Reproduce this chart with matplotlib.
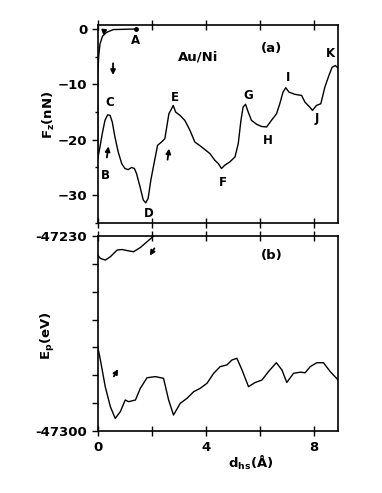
import matplotlib
matplotlib.use("Agg")
import matplotlib.pyplot as plt
from matplotlib.ticker import MultipleLocator

plt.rcParams["font.family"] = ["DejaVu Sans"]
plt.rcParams["font.weight"] = "bold"
plt.rcParams["mathtext.default"] = "bf"

# (a) force on the tip, approach then retraction
fz_d = [1.42, 0.58, 0.33, 0.18, 0.085, 0.04, 0.0, 0.0,
        0.085, 0.17, 0.27, 0.37, 0.46, 0.54, 0.64, 0.76, 0.89, 1.01, 1.13, 1.26,
        1.36, 1.44, 1.57, 1.69, 1.78, 1.87, 1.97, 2.10, 2.22, 2.37, 2.49, 2.56,
        2.64, 2.74, 2.80, 2.89, 3.05, 3.23, 3.42, 3.60, 3.85, 4.16, 4.34, 4.47,
        4.59, 4.71, 4.90, 5.09, 5.21, 5.31, 5.39, 5.48, 5.58, 5.70, 5.89, 6.07,
        6.26, 6.44, 6.63, 6.75, 6.87, 6.97, 7.09, 7.31, 7.56, 7.68, 7.86, 7.96,
        8.11, 8.27, 8.42, 8.57, 8.69, 8.81, 8.94]
fz_f = [0.0, -0.1, -0.6, -1.3, -2.7, -4.8, -8.4, -23.5,
        -21.3, -18.9, -16.5, -15.5, -15.6, -16.8, -19.5, -22.2, -24.3, -25.2, -25.4, -25.0,
        -25.2, -26.1, -28.5, -30.9, -31.4, -30.6, -27.3, -24.0, -21.0, -20.4, -19.8, -17.7,
        -15.3, -14.4, -13.8, -15.0, -15.6, -16.5, -18.3, -20.4, -21.3, -22.5, -23.7, -24.3,
        -25.2, -24.6, -24.0, -23.1, -20.7, -16.5, -14.1, -13.6, -15.0, -16.5, -17.2, -17.6,
        -17.7, -16.5, -15.3, -13.5, -11.4, -10.6, -11.4, -11.8, -12.0, -13.2, -14.1, -14.7,
        -13.8, -13.5, -10.5, -8.4, -6.9, -6.6, -7.2]

# (b) potential energy, approach branch and retraction branch
ep_app_d = [0.0, 0.1, 0.28, 0.47, 0.72, 0.9, 1.15, 1.33, 1.58, 1.83, 2.07]
ep_app = [-47236.8, -47238.0, -47238.6, -47237.4, -47235.0, -47234.8, -47235.3,
          -47235.6, -47234.1, -47232.0, -47230.0]
ep_ret_d = [0.0, 0.1, 0.28, 0.47, 0.65, 0.84, 1.02, 1.15, 1.40, 1.58, 1.83, 2.14,
            2.44, 2.63, 2.81, 3.06, 3.31, 3.56, 3.80, 4.05, 4.30, 4.54, 4.79, 4.98,
            5.16, 5.35, 5.59, 5.84, 6.09, 6.33, 6.62, 6.83, 7.01, 7.26, 7.51, 7.69,
            7.88, 8.12, 8.37, 8.62, 8.93]
ep_ret = [-47269.7, -47274.5, -47284.1, -47291.3, -47295.5, -47293.1, -47288.9,
          -47289.5, -47288.9, -47284.7, -47280.9, -47280.5, -47281.1, -47288.9,
          -47294.3, -47290.1, -47288.3, -47285.9, -47284.7, -47282.9, -47279.3,
          -47276.9, -47276.3, -47274.5, -47273.9, -47278.1, -47284.1, -47282.6,
          -47281.7, -47278.7, -47275.5, -47278.1, -47282.6, -47279.3, -47278.9,
          -47279.1, -47276.9, -47275.5, -47275.5, -47278.7, -47281.9]

point_labels = ["A", "B", "C", "D", "E", "F", "G", "H", "I", "J", "K"]
label_d = [1.41, 0.30, 0.43, 1.91, 2.86, 4.65, 5.58, 6.30, 7.06, 8.11, 8.64]
label_f = [-2.1, -26.4, -13.2, -33.3, -12.3, -27.8, -12.0, -20.2, -8.7, -16.2, -4.5]

fig = plt.figure(figsize=(3.82, 4.93), dpi=100)
ax1 = fig.add_axes([0.2557, 0.547, 0.630, 0.402])
ax2 = fig.add_axes([0.2557, 0.126, 0.630, 0.395])

arrow = dict(arrowstyle="-|>", color="black", lw=1.3, mutation_scale=7,
             shrinkA=0, shrinkB=0)

# top panel
ax1.plot(fz_d, fz_f, color="black", lw=1.0)
ax1.plot([1.42], [0.0], "o", color="black", ms=2.5)
for lab, d, f in zip(point_labels, label_d, label_f):
    ax1.text(d, f, lab, ha="center", va="center", fontsize=8.5, fontweight="bold")
ax1.text(3.73, -5.1, "Au/Ni", ha="center", va="center", fontsize=9.5, fontweight="bold")
ax1.text(6.44, -3.6, "(a)", ha="center", va="center", fontsize=9.5, fontweight="bold")
ax1.annotate("", xy=(0.57, -8.3), xytext=(0.57, -6.2), arrowprops=arrow)
ax1.annotate("", xy=(0.40, -21.2), xytext=(0.34, -23.2), arrowprops=arrow)
ax1.annotate("", xy=(2.65, -21.6), xytext=(2.59, -23.6), arrowprops=arrow)
ax1.annotate("", xy=(0.22, -1.2), xytext=(0.24, -0.2), arrowprops=arrow)
ax1.set_xlim(0, 8.92)
ax1.set_ylim(-35.1, 0.7)
ax1.yaxis.set_major_locator(MultipleLocator(10))
ax1.yaxis.set_minor_locator(MultipleLocator(5))
ax1.xaxis.set_major_locator(MultipleLocator(2))
ax1.tick_params(axis="x", which="both", direction="inout", length=7, width=1,
                top=True, labelbottom=False)
ax1.tick_params(axis="y", which="major", direction="out", length=4, width=1,
                labelsize=9.5)
ax1.tick_params(axis="y", which="minor", direction="out", length=2.5, width=1)
ax1.set_ylabel("F$_z$(nN)", fontsize=9.5, fontweight="bold")
ax1.yaxis.set_label_coords(-0.17, 0.55)

# bottom panel
ax2.plot(ep_app_d, ep_app, color="black", lw=1.0)
ax2.plot(ep_ret_d, ep_ret, color="black", lw=1.0)
ax2.text(6.44, -47236.8, "(b)", ha="center", va="center", fontsize=9.5, fontweight="bold")
ax2.annotate("", xy=(1.93, -47237.0), xytext=(2.10, -47234.4), arrowprops=arrow)
ax2.annotate("", xy=(0.76, -47277.8), xytext=(0.60, -47280.4), arrowprops=arrow)
ax2.set_xlim(0, 8.92)
ax2.set_ylim(-47300, -47230)
ax2.set_yticks([-47300, -47230])
ax2.set_yticklabels(["-47300", "-47230"])
ax2.yaxis.set_minor_locator(MultipleLocator(10))
ax2.set_xticks([0, 4, 8])
ax2.xaxis.set_minor_locator(MultipleLocator(2))
ax2.tick_params(axis="x", which="both", direction="inout", length=7, width=1,
                top=True, labelsize=9.5)
ax2.tick_params(axis="y", which="major", direction="out", length=4, width=1,
                labelsize=9.5)
ax2.tick_params(axis="y", which="minor", direction="out", length=4, width=1)
ax2.set_ylabel("E$_p$(eV)", fontsize=9.5, fontweight="bold")
ax2.yaxis.set_label_coords(-0.17, 0.49)
ax2.set_xlabel("d$_{hs}$(Å)", fontsize=9.5, fontweight="bold")
ax2.xaxis.set_label_coords(0.637, -0.12)

for ax in (ax1, ax2):
    for sp in ax.spines.values():
        sp.set_linewidth(1.2)

fig.savefig("out.png", dpi=100, facecolor="white")
